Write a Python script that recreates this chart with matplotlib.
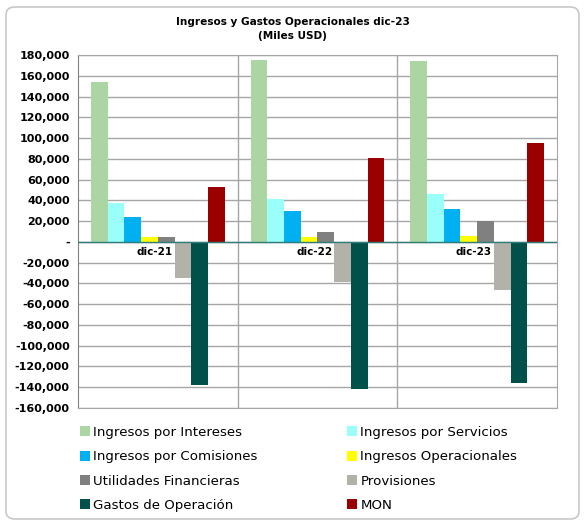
import numpy as np
import matplotlib.pyplot as plt
from matplotlib.patches import FancyBboxPatch, Patch
from matplotlib.ticker import FuncFormatter

# datos (miles USD)
periodos = ['dic-21', 'dic-22', 'dic-23']
series = ['Ingresos por Intereses', 'Ingresos por Servicios', 'Ingresos por Comisiones',
          'Ingresos Operacionales', 'Utilidades Financieras', 'Provisiones',
          'Gastos de Operación', 'MON']
intereses = [154000, 175000, 174000]
servicios = [37500, 41000, 46000]
comisiones = [24000, 30000, 32000]
operacionales = [5000, 5000, 6000]
utilidades = [5000, 10000, 20000]
provisiones = [-34500, -38500, -46500]
gastos = [-137500, -142000, -136000]
mon = [53000, 81000, 95000]
colores = ['#ACD5A4', '#99FFF8', '#00B0F0', '#FFFF00', '#808080', '#B2B2AA', '#00514A', '#9B0000']

valores = [intereses, servicios, comisiones, operacionales, utilidades, provisiones, gastos, mon]

plt.rcParams['font.family'] = ['DejaVu Sans']
fig = plt.figure(figsize=(5.85, 5.25), dpi=100)
fig.patches.append(FancyBboxPatch((6 / 585, 6 / 525), 573 / 585, 512 / 525,
                                  boxstyle='round,pad=0,rounding_size=0.015',
                                  transform=fig.transFigure, facecolor='white',
                                  edgecolor='#C8C8C8', linewidth=1.2, zorder=-10))

ax = fig.add_axes([78 / 585, 1 - 408 / 525, 479 / 585, 353 / 525])
ax.set_facecolor('white')

x = np.arange(len(periodos))
w = 0.1047
for i, (vals, col) in enumerate(zip(valores, colores)):
    ax.bar(x + (i - 3.5) * w, vals, width=w, color=col, label=series[i], zorder=3)

ax.set_xlim(-0.5, 2.5)
ax.set_ylim(-160000, 180000)
ax.set_yticks(np.arange(-160000, 180001, 20000))
ax.yaxis.set_major_formatter(FuncFormatter(lambda v, p: '-' if v == 0 else f'{v:,.0f}'))
for lbl in ax.get_yticklabels():
    lbl.set_fontweight('bold')
ax.tick_params(axis='y', labelsize=8, length=0, pad=6)
ax.set_xticks([])
ax.grid(axis='y', color='#A6A6A6', linewidth=1.0, zorder=0)
for xv in [0.5, 1.5]:
    ax.axvline(xv, color='#A6A6A6', linewidth=1.0, zorder=0)
ax.axhline(0, color='#2E7D78', linewidth=1.0, zorder=4)
for s in ['top', 'right', 'bottom']:
    ax.spines[s].set_color('#A6A6A6')
ax.spines['left'].set_color('#808080')

for i, p in enumerate(periodos):
    ax.text(i - 0.02, -5000, p, ha='center', va='top', fontsize=7.5, fontweight='bold', zorder=5)

fig.text(0.5, 1 - 29 / 525, 'Ingresos y Gastos Operacionales dic-23\n(Miles USD)',
         ha='center', va='center', fontsize=7.6, fontweight='bold', linespacing=1.45)

handles = [Patch(facecolor=c) for c in colores]
orden = [0, 2, 4, 6, 1, 3, 5, 7]
fig.legend([handles[k] for k in orden], [series[k] for k in orden], ncol=2,
           loc='upper left', bbox_to_anchor=(68 / 585, 1 - 414 / 525), frameon=False,
           fontsize=9.6, handlelength=0.75, handleheight=0.75, handletextpad=0.25,
           columnspacing=6.7, labelspacing=0.85)

fig.savefig('out.png', dpi=100)
